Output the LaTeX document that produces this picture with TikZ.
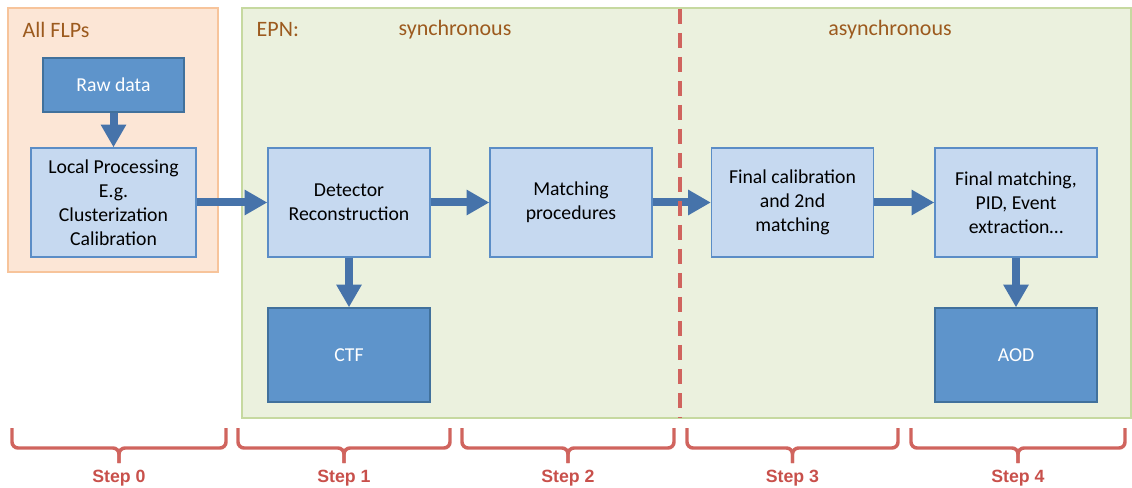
\documentclass[tikz,border=0pt]{standalone}
\usepackage{fontspec}
\setmainfont{Carlito}
\newfontfamily\stepfont{Liberation Sans}
\usetikzlibrary{arrows.meta}
\definecolor{flpfill}{HTML}{FCE6D6}
\definecolor{flpdraw}{HTML}{F7C49B}
\definecolor{epnfill}{HTML}{EBF1DE}
\definecolor{epndraw}{HTML}{C6D9A0}
\definecolor{lightbox}{HTML}{C6D9F0}
\definecolor{boxdraw}{HTML}{5B8DC6}
\definecolor{darkbox}{HTML}{5E94CB}
\definecolor{darkdraw}{HTML}{41719C}
\definecolor{arrowcol}{HTML}{4673AA}
\definecolor{titlecol}{HTML}{9C5A1E}
\definecolor{stepcol}{HTML}{C8504B}
\definecolor{bracecol}{HTML}{D0645E}
\tikzset{
  region/.style={line width=1.2pt},
  procbox/.style={draw=boxdraw, fill=lightbox, line width=1pt, minimum width=121.5pt, minimum height=81.75pt, align=center, inner sep=2pt, font=\fontsize{14.8}{18}\selectfont},
  databox/.style={draw=darkdraw, fill=darkbox, line width=1pt, text=white, align=center, font=\fontsize{14.8}{18}\selectfont},
  flow/.style={draw=arrowcol, line width=6pt, -{Triangle[width=18pt,length=17pt]}},
  title/.style={text=titlecol, font=\fontsize{16.5}{20}\selectfont},
  bracepath/.style={draw=bracecol, line width=2.6pt, rounded corners=4.5pt},
  steplabel/.style={text=stepcol, font=\stepfont\bfseries\fontsize{13.3}{16}\selectfont}
}
\begin{document}
\begin{tikzpicture}[x=0.75pt,y=-0.75pt]
\useasboundingbox (0,0) rectangle (1132,488);
% regions
\path[region, fill=flpfill, draw=flpdraw] (8,8) rectangle (218,272);
\path[region, fill=epnfill, draw=epndraw] (242,8) rectangle (1131,418);
\node[title, anchor=west] (tflp) at (18,30) {All FLPs};
\node[title, anchor=west] (tepn) at (252,30) {EPN:};
\node[title] (tsync) at (455,30) {synchronous};
\node[title] (tasync) at (890,30) {asynchronous};
% boxes
\node[databox, minimum width=105.75pt, minimum height=40.5pt] (raw) at (113.5,85) {Raw data};
\node[procbox, minimum width=123.75pt] (local) at (113.5,202.5) {Local Processing\\E.g.\\Clusterization\\Calibration};
\node[procbox] (det) at (349,202.5) {Detector\\Reconstruction};
\node[procbox] (match) at (571,202.5) {Matching\\procedures};
\node[procbox] (fcal) at (792.5,202.5) {Final calibration\\and 2nd\\matching};
\node[procbox] (fmatch) at (1016,202.5) {Final matching,\\PID, Event\\extraction\ldots};
\node[databox, minimum width=121.5pt, minimum height=70.5pt] (ctf) at (349,355) {CTF};
\node[databox, minimum width=121.5pt, minimum height=70.5pt] (aod) at (1016,355) {AOD};
% arrows
\draw[flow] (raw) -- (local);
\draw[flow] (local) -- (det);
\draw[flow] (det) -- (match);
\draw[flow] (match) -- (fcal);
\draw[flow] (fcal) -- (fmatch);
\draw[flow] (det) -- (ctf);
\draw[flow] (fmatch) -- (aod);
% sync / async divider
\coordinate (dtop) at (680,9);
\coordinate (dbot) at (680,418);
\draw[draw=bracecol, line width=2.4pt, dash pattern=on 11pt off 7pt] (dtop) -- (dbot);
% braces
\foreach \l/\r/\n in {12/226/0, 238/450/1, 462/674/2, 687/898/3, 911/1125/4}{
  \pgfmathsetmacro{\m}{(\l+\r)/2}
  \draw[bracepath] (\l,428) -- (\l,448) -- (\m,448) -- (\m,463);
  \draw[bracepath] (\r,428) -- (\r,448) -- (\m,448) -- (\m,463);
  \node[steplabel] (step\n) at (\m,478) {Step \n};
}
\end{tikzpicture}
\end{document}
